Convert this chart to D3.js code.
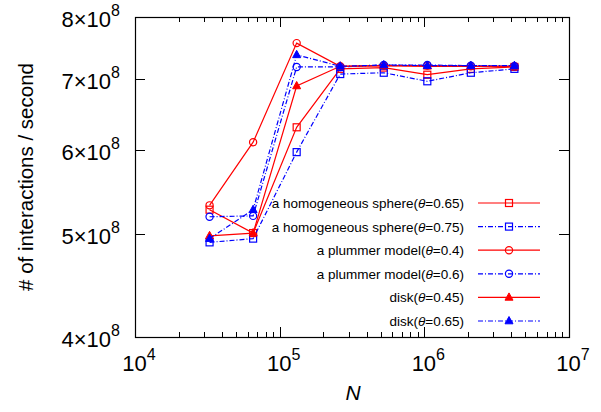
<!DOCTYPE html>
<html>
<head>
<meta charset="utf-8">
<script src="https://cdn.jsdelivr.net/npm/d3@7"></script>
<style>
  body { margin: 0; background: #fff; }
  svg { font-family: "Liberation Sans", Arial, sans-serif; }
</style>
</head>
<body>
<svg id="chart" width="601" height="412"></svg>
<script>
// particle counts
const nValues = [32768, 65536, 131072, 262144, 524288, 1048576, 2097152, 4194304];

// interactions / second (x1e8)
const homSphere065 = [5.27, 5.01, 6.30, 7.15, 7.17, 7.06, 7.15, 7.18];
const homSphere075 = [4.91, 4.95, 5.97, 7.07, 7.09, 6.96, 7.09, 7.15];
const plummer04 = [5.32, 6.10, 7.56, 7.19, 7.20, 7.20, 7.19, 7.19];
const plummer06 = [5.19, 5.20, 7.18, 7.18, 7.21, 7.21, 7.20, 7.19];
const disk045 = [4.98, 5.01, 6.89, 7.19, 7.20, 7.19, 7.19, 7.19];
const disk065 = [4.95, 5.27, 7.37, 7.19, 7.21, 7.20, 7.20, 7.20];

const seriesNames = [
  'a homogeneous sphere', 'a homogeneous sphere',
  'a plummer model', 'a plummer model', 'disk', 'disk'
];
const seriesThetas = ['0.65', '0.75', '0.4', '0.6', '0.45', '0.65'];

const xTickExps = [4, 5, 6, 7];
const yTickMant = [4, 5, 6, 7, 8];

const red = '#ff0000', blue = '#0000ff';
const series = [
  {values: homSphere065, color: red, dash: null, marker: 'square'},
  {values: homSphere075, color: blue, dash: '5,2,1,2', marker: 'square'},
  {values: plummer04, color: red, dash: null, marker: 'circle'},
  {values: plummer06, color: blue, dash: '5,2,1,2', marker: 'circle'},
  {values: disk045, color: red, dash: null, marker: 'triangle'},
  {values: disk065, color: blue, dash: '5,2,1,2', marker: 'triangle'}
];

const svg = d3.select('#chart');
const margin = {left: 135, right: 32, top: 17, bottom: 75};
const W = 601, H = 412;

const x = d3.scaleLog().domain([1e4, 1e7]).range([margin.left, W - margin.right]);
const y = d3.scaleLog().domain([4e8, 8e8]).range([H - margin.bottom, margin.top]);

const x0 = x.range()[0], x1 = x.range()[1];
const y0 = y.range()[0], y1 = y.range()[1];

// ticks (inside, mirrored)
const ticks = svg.append('g').attr('stroke', '#000').attr('stroke-width', 1);
const xMinor = x.ticks().filter(v => xTickExps.indexOf(Math.round(Math.log10(v) * 1000) / 1000) < 0);
xMinor.forEach(v => {
  const px = Math.round(x(v)) + 0.5;
  ticks.append('line').attr('x1', px).attr('x2', px).attr('y1', y0).attr('y2', y0 - 5);
  ticks.append('line').attr('x1', px).attr('x2', px).attr('y1', y1).attr('y2', y1 + 5);
});
xTickExps.forEach(e => {
  const px = Math.round(x(Math.pow(10, e))) + 0.5;
  ticks.append('line').attr('x1', px).attr('x2', px).attr('y1', y0).attr('y2', y0 - 10);
  ticks.append('line').attr('x1', px).attr('x2', px).attr('y1', y1).attr('y2', y1 + 10);
});
yTickMant.forEach(m => {
  const py = Math.round(y(m * 1e8)) + 0.5;
  ticks.append('line').attr('x1', x0).attr('x2', x0 + 10).attr('y1', py).attr('y2', py);
  ticks.append('line').attr('x1', x1).attr('x2', x1 - 10).attr('y1', py).attr('y2', py);
});

// tick labels
const xLab = svg.append('g').attr('font-size', 22).attr('fill', '#000');
xTickExps.forEach(e => {
  const t = xLab.append('text')
    .attr('x', x(Math.pow(10, e)) + 4)
    .attr('y', 371)
    .attr('text-anchor', 'middle');
  t.append('tspan').text('10');
  t.append('tspan').attr('dy', -11).attr('font-size', 16).text(e);
});

const yLab = svg.append('g').attr('font-size', 22).attr('fill', '#000');
yTickMant.forEach(m => {
  const t = yLab.append('text')
    .attr('x', 120)
    .attr('y', y(m * 1e8) + 10)
    .attr('text-anchor', 'end');
  t.append('tspan').text(m + '\u00d710');
  t.append('tspan').attr('dy', -11).attr('font-size', 16).text('8');
});

// axis titles
svg.append('text')
  .attr('transform', 'translate(33,' + ((y0 + y1) / 2) + ') rotate(-90)')
  .attr('text-anchor', 'middle')
  .attr('font-size', 20.5)
  .text('# of interactions / second');

svg.append('text')
  .attr('x', (x0 + x1) / 2 + 1)
  .attr('y', 400)
  .attr('text-anchor', 'middle')
  .attr('font-size', 21)
  .attr('font-style', 'italic')
  .text('N');

// markers
function drawMarker(g, kind, cx, cy, color) {
  if (kind === 'square') {
    g.append('rect').attr('x', cx - 3.5).attr('y', cy - 3.5).attr('width', 7).attr('height', 7)
      .attr('fill', 'none').attr('stroke', color).attr('stroke-width', 1.2);
  } else if (kind === 'circle') {
    g.append('circle').attr('cx', cx).attr('cy', cy).attr('r', 3.6)
      .attr('fill', 'none').attr('stroke', color).attr('stroke-width', 1.2);
  } else {
    g.append('path')
      .attr('d', 'M' + cx + ',' + (cy - 4.5) + 'L' + (cx + 4) + ',' + (cy + 2.8) + 'L' + (cx - 4) + ',' + (cy + 2.8) + 'Z')
      .attr('fill', color).attr('stroke', color).attr('stroke-width', 1);
  }
}

const line = d3.line().x(d => x(d[0])).y(d => y(d[1] * 1e8));
const plot = svg.append('g');
series.forEach(s => {
  const pts = nValues.map((n, i) => [n, s.values[i]]);
  plot.append('path').datum(pts)
    .attr('d', line)
    .attr('fill', 'none')
    .attr('stroke', s.color)
    .attr('stroke-width', 1.2)
    .attr('stroke-dasharray', s.dash);
  const mg = plot.append('g');
  pts.forEach(p => drawMarker(mg, s.marker, x(p[0]), y(p[1] * 1e8), s.color));
});

// legend
const legend = svg.append('g').attr('font-size', 13.5);
series.forEach((s, i) => {
  const ly = 203 + i * 23.6;
  const t = legend.append('text')
    .attr('x', 464).attr('y', ly + 5)
    .attr('text-anchor', 'end');
  t.append('tspan').text(seriesNames[i] + '(');
  t.append('tspan').attr('font-style', 'italic').text('\u03b8');
  t.append('tspan').text('=' + seriesThetas[i] + ')');
  legend.append('line')
    .attr('x1', 478).attr('x2', 540).attr('y1', ly).attr('y2', ly)
    .attr('stroke', s.color).attr('stroke-width', 1.2)
    .attr('stroke-dasharray', s.dash);
  drawMarker(legend, s.marker, 509, ly, s.color);
});

// frame
svg.append('rect')
  .attr('x', x0 + 0.5).attr('y', y1 + 0.5)
  .attr('width', x1 - x0).attr('height', y0 - y1)
  .attr('fill', 'none').attr('stroke', '#000').attr('stroke-width', 1.2);
</script>
</body>
</html>
